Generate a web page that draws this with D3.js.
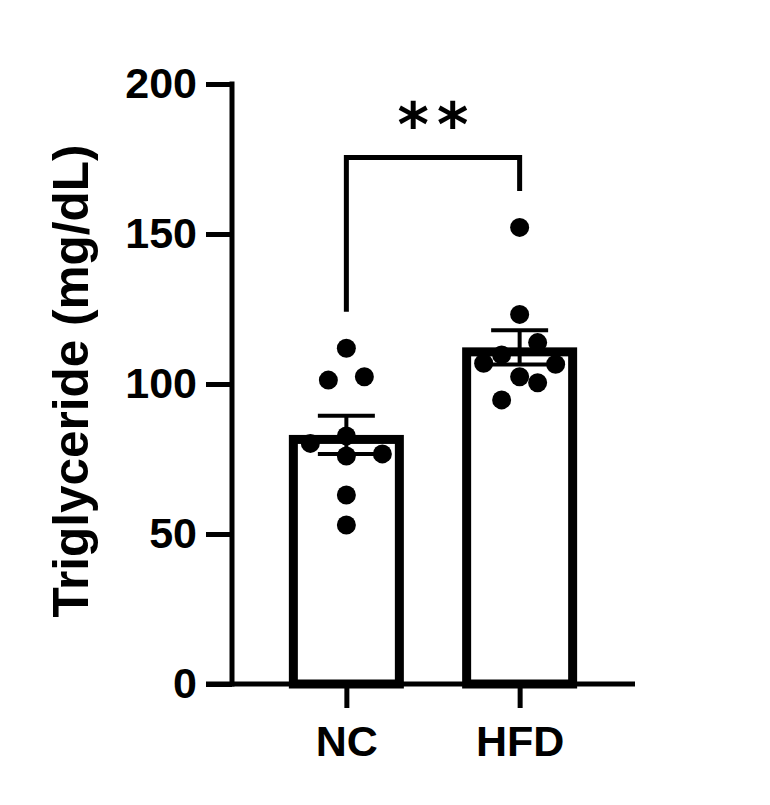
<!DOCTYPE html>
<html>
<head>
<meta charset="utf-8">
<script src="https://cdn.jsdelivr.net/npm/d3@7"></script>
<style>
  body { margin: 0; background: #fff; }
  svg { display: block; font-family: "Liberation Sans", Arial, sans-serif; }
</style>
</head>
<body>
<svg id="chart" width="770" height="805"></svg>
<script>
// --- DATA ---
const groups = ["NC", "HFD"];
const ncValues = [111.9, 101.3, 102.4, 80.2, 82.7, 76.7, 76.0, 63.0, 53.0];
const hfdValues = [152.2, 123.2, 109.7, 113.8, 106.9, 102.4, 106.6, 94.7, 100.4];
const yTicks = [0, 50, 100, 150, 200];
const yTitle = "Triglyceride (mg/dL)";
const sigLabel = "**";

const series = [
  { name: "NC", values: ncValues },
  { name: "HFD", values: hfdValues }
];

// summary stats: mean + SEM
series.forEach(s => {
  s.mean = d3.mean(s.values);
  s.sem = d3.deviation(s.values) / Math.sqrt(s.values.length);
});

const svg = d3.select("#chart");

// --- SCALES ---
const y = d3.scaleLinear().domain([0, 200]).range([684, 84]);
const x = d3.scalePoint().domain(groups).range([232, 634]).padding(0.66);

const barW = 115, barStroke = 9, dotR = 9.5, colStep = 36;

// --- BARS ---
svg.append("g").selectAll("rect")
  .data(series).join("rect")
  .attr("x", d => x(d.name) - barW / 2 + barStroke / 2)
  .attr("y", d => y(d.mean) + barStroke / 2)
  .attr("width", barW - barStroke)
  .attr("height", d => y(0) - y(d.mean) - barStroke / 2)
  .attr("fill", "#fff").attr("stroke", "#000").attr("stroke-width", barStroke);

// --- ERROR BARS ---
const err = svg.append("g").attr("stroke", "#000").attr("stroke-width", 4);
series.forEach(s => {
  const cx = x(s.name);
  err.append("line").attr("x1", cx).attr("x2", cx)
    .attr("y1", y(s.mean - s.sem)).attr("y2", y(s.mean + s.sem));
  [s.mean - s.sem, s.mean + s.sem].forEach(v => {
    err.append("line").attr("x1", cx - 28.5).attr("x2", cx + 28.5)
      .attr("y1", y(v)).attr("y2", y(v));
  });
});

// --- SCATTER (row-wise swarm) ---
function swarm(values, cx) {
  const idx = values.map((v, i) => i).sort((a, b) => values[b] - values[a]);
  const rows = [];
  idx.forEach(i => {
    const row = rows[rows.length - 1];
    if (row && Math.abs(y(values[row[0]]) - y(values[i])) < 19.2) row.push(i);
    else rows.push([i]);
  });
  const pts = [];
  rows.forEach(row => {
    row.sort((a, b) => a - b);
    row.forEach((i, k) => pts.push({ x: cx + (k - (row.length - 1) / 2) * colStep, y: y(values[i]) }));
  });
  return pts;
}

series.forEach(s => {
  svg.append("g").selectAll("circle")
    .data(swarm(s.values, x(s.name))).join("circle")
    .attr("cx", d => d.x).attr("cy", d => d.y).attr("r", dotR).attr("fill", "#000");
});

// --- AXES ---
const yAxis = svg.append("g").attr("transform", "translate(232,0)")
  .call(d3.axisLeft(y).tickValues(yTicks).tickSize(26).tickPadding(9).tickSizeOuter(0));
yAxis.select(".domain").remove();
yAxis.selectAll(".tick line").attr("stroke-width", 5);
yAxis.selectAll("text").attr("font-size", 43).attr("font-weight", "bold").attr("fill", "#000");
svg.append("line").attr("x1", 232).attr("x2", 232)
  .attr("y1", y(200) - 2.5).attr("y2", y(0) + 2.5)
  .attr("stroke", "#000").attr("stroke-width", 5);

const xAxis = svg.append("g").attr("transform", `translate(0,${y(0)})`)
  .call(d3.axisBottom(x).tickSize(24).tickPadding(17).tickSizeOuter(0));
xAxis.select(".domain").remove();
xAxis.selectAll(".tick line").attr("stroke-width", 5);
xAxis.selectAll("text").attr("font-size", 43).attr("font-weight", "bold").attr("fill", "#000");
svg.append("line").attr("x1", 206).attr("x2", 635)
  .attr("y1", y(0)).attr("y2", y(0))
  .attr("stroke", "#000").attr("stroke-width", 5);

// y title
svg.append("text")
  .attr("transform", `translate(88,${(y(0) + y(200)) / 2 - 3}) rotate(-90)`)
  .attr("text-anchor", "middle")
  .attr("font-size", 49.5).attr("font-weight", "bold")
  .text(yTitle);

// --- SIGNIFICANCE BRACKET ---
const tops = series.map(s => y(d3.max(s.values)) - dotR - 27);
const barY = y(d3.max(series, s => d3.max(s.values))) - 70;
const x0 = x(groups[0]), x1 = x(groups[1]);
svg.append("path")
  .attr("d", `M${x0},${tops[0]}V${barY}H${x1}V${tops[1]}`)
  .attr("fill", "none").attr("stroke", "#000").attr("stroke-width", 5);
svg.append("text")
  .attr("x", (x0 + x1) / 2 + 4).attr("y", barY - 11)
  .attr("text-anchor", "middle")
  .attr("font-family", "DejaVu Sans")
  .attr("font-size", 60).attr("font-weight", "bold")
  .attr("letter-spacing", 8)
  .text(sigLabel);
</script>
</body>
</html>
